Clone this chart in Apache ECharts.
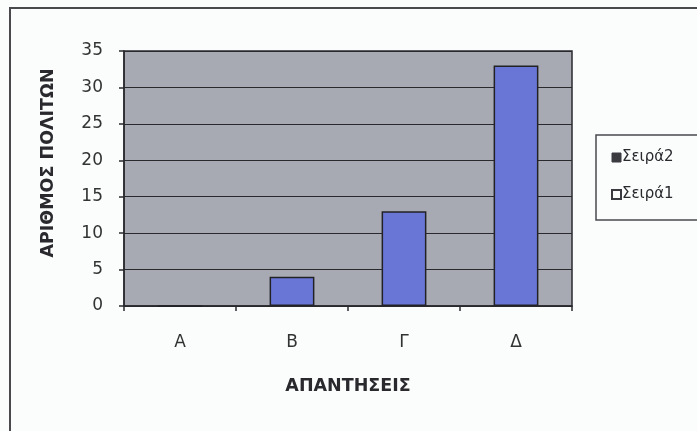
<!DOCTYPE html>
<html><head><meta charset="utf-8">
<script src="https://cdn.jsdelivr.net/npm/echarts@6/dist/echarts.min.js"></script>
<style>html,body{margin:0;padding:0;background:#fbfdfd;}#c{width:697px;height:431px;}</style>
</head><body><div id="c"></div>
<script>
const categories = ['Α', 'Β', 'Γ', 'Δ'];
const series1 = [0, 0, 0, 0];
const series2 = [0, 4, 13, 33];
const seriesNames = ['Σειρά1', 'Σειρά2'];
const yTitle = 'ΑΡΙΘΜΟΣ ΠΟΛΙΤΩΝ';
const xTitle = 'ΑΠΑΝΤΗΣΕΙΣ';

const chart = echarts.init(document.getElementById('c'), null, {renderer: 'canvas'});
const dark = '#2a2a2e';
const ff = '"DejaVu Sans", sans-serif';
chart.setOption({
  backgroundColor: '#fbfdfd',
  animation: false,
  textStyle: {fontFamily: ff},
  graphic: [
    {type: 'rect', shape: {x: 10, y: 8, width: 720, height: 460}, style: {fill: 'none', stroke: '#4a4a4e', lineWidth: 2}, z: 0},
    {type: 'rect', shape: {x: 596, y: 135, width: 120, height: 85}, style: {fill: '#fbfdfd', stroke: '#4a4a4e', lineWidth: 1.5}, z: 1},
    {type: 'text', x: 48, y: 163, rotation: Math.PI / 2, style: {text: yTitle, fill: '#2a2a2e', font: 'bold 17.5px ' + ff, textAlign: 'center', textVerticalAlign: 'middle'}, z: 5}
  ],
  legend: {
    orient: 'vertical', left: 606, top: 145, itemWidth: 9, itemHeight: 9, itemGap: 22,
    icon: 'rect',
    data: [
      {name: seriesNames[1], itemStyle: {color: '#3a3a40', borderColor: '#3a3a40', borderWidth: 1}},
      {name: seriesNames[0], itemStyle: {color: '#fbfdfd', borderColor: '#3a3a40', borderWidth: 2}}
    ],
    textStyle: {fontSize: 15, color: '#2a2a2e', padding: [0, 0, 0, -4]},
    z: 10
  },
  grid: {left: 124, top: 51, right: 125, bottom: 125, show: true, backgroundColor: '#a8aab3', borderColor: dark, borderWidth: 1.5},
  xAxis: {
    type: 'category', data: categories,
    name: xTitle, nameLocation: 'middle', nameGap: 71,
    nameTextStyle: {fontSize: 17.5, fontWeight: 'bold', color: '#2a2a2e'},
    axisLine: {lineStyle: {color: dark, width: 1.5}},
    axisTick: {show: true, length: 5, lineStyle: {color: dark, width: 1.5}},
    axisLabel: {fontSize: 17, color: '#333', margin: 28}
  },
  yAxis: {
    type: 'value', min: 0, max: 35, interval: 5,
    axisLine: {show: true, lineStyle: {color: dark, width: 1.5}},
    axisTick: {show: true, length: 5, lineStyle: {color: dark, width: 1.5}},
    axisLabel: {fontSize: 17, color: '#333', margin: 21},
    splitLine: {lineStyle: {color: dark, width: 1.2}}
  },
  series: [
    {name: seriesNames[0], type: 'bar', stack: 's', data: series1, barWidth: '40%',
     itemStyle: {color: '#fbfdfd', borderColor: dark, borderWidth: 0}},
    {name: seriesNames[1], type: 'bar', stack: 's', data: series2, barWidth: '40%',
     itemStyle: {color: '#6a76d6', borderColor: '#222226', borderWidth: 1.5}}
  ]
});
</script></body></html>
